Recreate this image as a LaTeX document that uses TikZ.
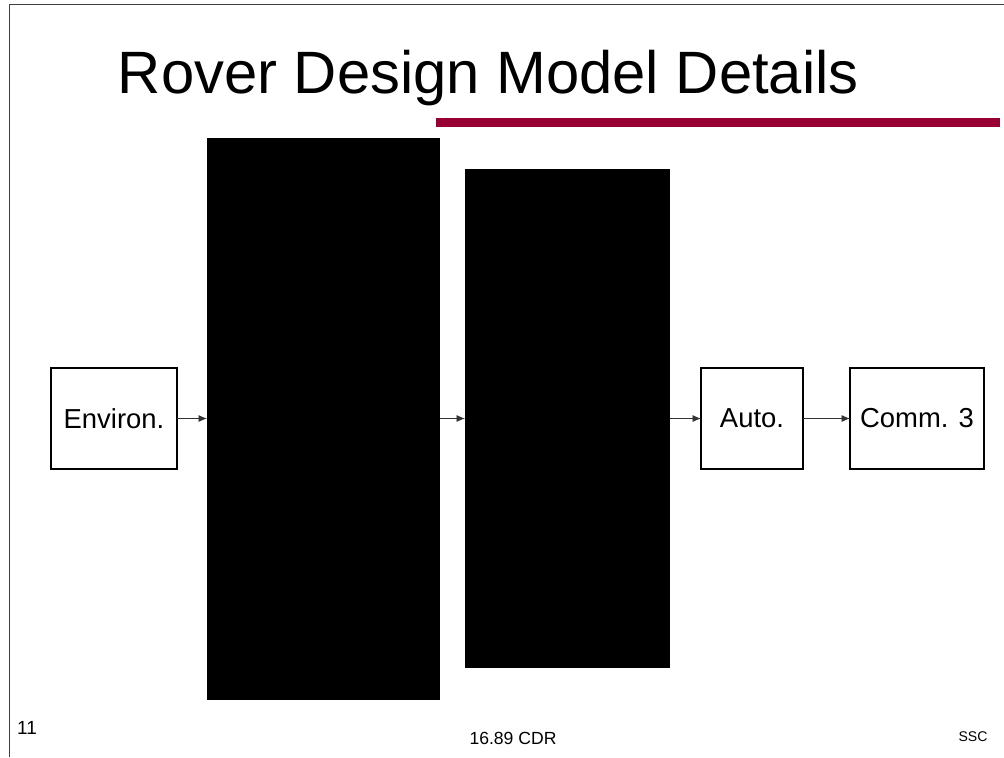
\documentclass[tikz,border=0pt]{standalone}
\usepackage{fontspec}
\setmainfont{Liberation Sans}
\usetikzlibrary{arrows.meta}
\definecolor{barred}{HTML}{990033}

\begin{document}
\begin{tikzpicture}[x=0.025cm, y=-0.025cm,
  block/.style={draw, line width=0.9pt, inner sep=0pt, outer sep=0pt, font=\fontsize{19.5}{22}\selectfont},
  blackbox/.style={fill=black, inner sep=0pt, outer sep=0pt},
  link/.style={-{Latex[length=6pt, width=5pt]}, line width=0.6pt, black!80}]
\useasboundingbox (0,0) rectangle (1004,757);
\draw [line width=0.7pt, black!75] (9,757) -- (9,4) -- (1004,4);
  \node (title) [anchor=base west, font=\fontsize{42.5}{50}\selectfont] at (113,93) {Rover Design Model Details};
  \fill [barred] (436,118) rectangle (1000,127);
  \node (env) [block, minimum width=3.15cm, minimum height=2.525cm] at (114,418.5) {Environ.};
  \node (blka) [blackbox, minimum width=5.825cm, minimum height=14.05cm] at (323.5,419) {};
  \node (blkb) [blackbox, minimum width=5.125cm, minimum height=12.475cm] at (567.5,418.5) {};
  \node (auto) [block, minimum width=2.55cm, minimum height=2.525cm] at (752,418.5) {Auto.};
  \node (comm) [block, minimum width=3.35cm, minimum height=2.525cm] at (917,418.5) {Comm. 3};
\draw [link] (env.east) -- (env.east -| blka.west);
\draw [link] (blka.east |- env.east) -- (env.east -| blkb.west);
\draw [link] (blkb.east |- env.east) -- (auto.west);
\draw [link] (auto) -- (comm);
  \node (page) [font=\fontsize{13.5}{15}\selectfont] at (27,728) {11};
  \node (footer) [font=\fontsize{12.5}{14}\selectfont] at (513,738) {16.89 CDR};
  \node (org) [font=\fontsize{10}{12}\selectfont] at (973,737) {SSC};
\end{tikzpicture}
\end{document}
